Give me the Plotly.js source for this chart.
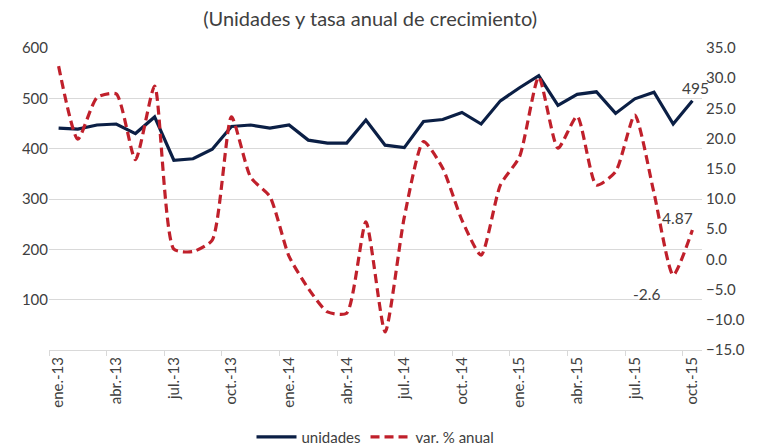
<!DOCTYPE html>
<html>
<head>
<meta charset="utf-8">
<script src="https://cdn.plot.ly/plotly-3.0.1.min.js"></script>
<style>html,body{margin:0;padding:0;background:#fff;}#chart{width:760px;height:446px;}</style>
</head>
<body>
<div id="chart"></div>
<script>
const months = ["ene.-13","feb.-13","mar.-13","abr.-13","may.-13","jun.-13","jul.-13","ago.-13","sep.-13","oct.-13","nov.-13","dic.-13",
"ene.-14","feb.-14","mar.-14","abr.-14","may.-14","jun.-14","jul.-14","ago.-14","sep.-14","oct.-14","nov.-14","dic.-14",
"ene.-15","feb.-15","mar.-15","abr.-15","may.-15","jun.-15","jul.-15","ago.-15","sep.-15","oct.-15"];
const unidades = [441,439,447,449,430,463,377,380,399,444,447,441,447,417,411,411,457,407,402,454,458,472,449,495,521,545,486,508,513,470,499,512,449,495];
const varAnual = [32.0,19.9,26.8,27.4,16.5,28.7,1.7,1.3,3.2,23.6,13.6,10.4,0.5,-4.8,-8.7,-8.9,6.2,-12.0,7.0,19.5,15.1,6.5,0.7,12.3,17.0,30.2,18.4,23.7,12.3,14.5,23.9,11.0,-2.6,4.87];
const fontFam = "Lato, 'Open Sans', sans-serif";
const txtCol = "#404040";
const n = months.length;

const traces = [
  {x: months, y: unidades, name: "unidades", type: "scatter", mode: "lines",
   line: {color: "#0b1f45", width: 3.2}},
  {x: months, y: varAnual, name: "var. % anual", type: "scatter", mode: "lines", yaxis: "y2",
   line: {color: "#c0202b", width: 3.2, dash: "9px,5px", shape: "spline", smoothing: 0.6}}
];
const layout = {
  width: 760, height: 446,
  margin: {l: 49, r: 58, t: 48, b: 96, autoexpand: false},
  paper_bgcolor: "#fff", plot_bgcolor: "#fff",
  font: {family: fontFam, color: txtCol, size: 15},
  title: {text: "(Unidades y tasa anual de crecimiento)", x: 0.487, xanchor: "center", y: 0.958, yanchor: "middle",
          font: {family: fontFam, size: 20, color: txtCol}, automargin: false},
  showlegend: true,
  legend: {orientation: "h", x: 0.5, xanchor: "center", yref: "container", y: 0.02, yanchor: "middle",
           itemwidth: 40, font: {family: fontFam, size: 15, color: txtCol}},
  xaxis: {type: "category", tickmode: "linear", dtick: 3, tick0: 0, tickangle: -90, tickson: "boundaries",
          ticks: "outside", ticklen: 5, tickcolor: "#d9d9d9", showgrid: false, automargin: false,
          showline: true, linecolor: "#d9d9d9", linewidth: 1,
          tickfont: {family: fontFam, size: 15, color: txtCol}, range: [-0.5, 33.5]},
  yaxis: {range: [0, 600], tickvals: [100,200,300,400,500,600], showgrid: true, gridcolor: "#d9d9d9",
          zeroline: false, showline: false, ticks: "", automargin: false,
          tickfont: {family: fontFam, size: 15, color: txtCol}},
  yaxis2: {overlaying: "y", side: "right", range: [-15, 35], dtick: 5, tick0: -15, tickformat: ".1f",
           showgrid: false, zeroline: false, showline: false, ticks: "", automargin: false, ticklabelstandoff: 3,
           tickfont: {family: fontFam, size: 15, color: txtCol}},
  annotations: [
    {x: months[n-1], y: unidades[n-1], xref: "x", yref: "y", text: "495", showarrow: false,
     yshift: 13, xshift: 3, font: {family: fontFam, size: 15.5, color: txtCol}},
    {x: months[n-1], y: varAnual[n-1], xref: "x", yref: "y2", text: "4.87", showarrow: false,
     yshift: 12, xshift: -15, font: {family: fontFam, size: 15.5, color: txtCol}},
    {x: months[n-2], y: varAnual[n-2], xref: "x", yref: "y2", text: "-2.6", showarrow: false,
     yshift: -19, xshift: -27, font: {family: fontFam, size: 15.5, color: txtCol}}
  ]
};
Plotly.newPlot("chart", traces, layout, {displayModeBar: false, staticPlot: true});
</script>
</body>
</html>
